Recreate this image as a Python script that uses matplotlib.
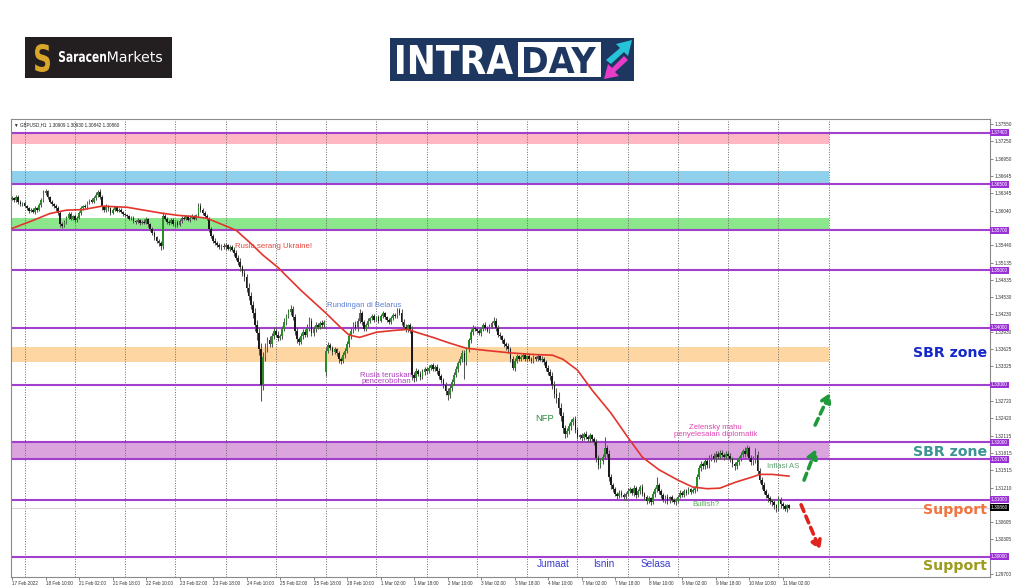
import numpy as np
import matplotlib
matplotlib.use('Agg')
import matplotlib.pyplot as plt
import matplotlib.transforms as mtrans
from matplotlib.textpath import TextPath
from matplotlib.font_manager import FontProperties
from matplotlib.patches import PathPatch, Rectangle, Polygon

# GBPUSD H1 closes, one per hourly bar (17 Feb 2022 18:00 -> 11 Mar 2022 05:00)
closes = [
    1.3626, 1.3622, 1.3628, 1.3620, 1.3616, 1.3618, 1.3612, 1.3608, 1.3604, 1.3606, 1.3602, 1.3608,
    1.3605, 1.3614, 1.3622, 1.3635, 1.3638, 1.3628, 1.3620, 1.3615, 1.3612, 1.3608, 1.3600, 1.3580,
    1.3578, 1.3585, 1.3592, 1.3598, 1.3590, 1.3595, 1.3588, 1.3592, 1.3600, 1.3608, 1.3612, 1.3610,
    1.3618, 1.3622, 1.3620, 1.3626, 1.3632, 1.3636, 1.3628, 1.3610, 1.3605, 1.3612, 1.3608, 1.3600,
    1.3606, 1.3610, 1.3604, 1.3606, 1.3602, 1.3598, 1.3596, 1.3594, 1.3590, 1.3592, 1.3586, 1.3584,
    1.3588, 1.3582, 1.3585, 1.3583, 1.3590, 1.3580, 1.3572, 1.3565, 1.3558, 1.3552, 1.3548, 1.3542,
    1.3595, 1.3590, 1.3585, 1.3582, 1.3588, 1.3580, 1.3584, 1.3579, 1.3586, 1.3592, 1.3590, 1.3594,
    1.3588, 1.3592, 1.3595, 1.3590, 1.3596, 1.3612, 1.3605, 1.3600, 1.3595, 1.3590, 1.3572, 1.3560,
    1.3552, 1.3548, 1.3545, 1.3540, 1.3543, 1.3540, 1.3544, 1.3538, 1.3541, 1.3536, 1.3530, 1.3522,
    1.3515, 1.3505, 1.3495, 1.3488, 1.3470, 1.3455, 1.3440, 1.3425, 1.3405, 1.3390, 1.3362, 1.3300,
    1.3348, 1.3365, 1.3378, 1.3372, 1.3385, 1.3395, 1.3388, 1.3382, 1.3385, 1.3398, 1.3410, 1.3420,
    1.3428, 1.3432, 1.3418, 1.3395, 1.3380, 1.3375, 1.3385, 1.3392, 1.3388, 1.3400, 1.3412, 1.3390,
    1.3398, 1.3405, 1.3402, 1.3408, 1.3404, 1.3410, 1.3360, 1.3370, 1.3365, 1.3358, 1.3362, 1.3355,
    1.3345, 1.3342, 1.3352, 1.3360, 1.3372, 1.3385, 1.3395, 1.3405, 1.3400, 1.3412, 1.3425, 1.3410,
    1.3398, 1.3405, 1.3412, 1.3416, 1.3420, 1.3414, 1.3418, 1.3412, 1.3420, 1.3425, 1.3418, 1.3414,
    1.3410, 1.3416, 1.3422, 1.3420, 1.3430, 1.3426, 1.3410, 1.3402, 1.3398, 1.3404, 1.3395, 1.3318,
    1.3312, 1.3325, 1.3320, 1.3314, 1.3322, 1.3328, 1.3324, 1.3330, 1.3334, 1.3328, 1.3332, 1.3325,
    1.3315, 1.3308, 1.3300, 1.3290, 1.3282, 1.3295, 1.3305, 1.3318, 1.3328, 1.3338, 1.3345, 1.3355,
    1.3340, 1.3362, 1.3378, 1.3392, 1.3400, 1.3398, 1.3395, 1.3390, 1.3398, 1.3405, 1.3400, 1.3395,
    1.3402, 1.3408, 1.3412, 1.3400, 1.3388, 1.3385, 1.3378, 1.3372, 1.3368, 1.3362, 1.3345, 1.3330,
    1.3342, 1.3350, 1.3345, 1.3348, 1.3352, 1.3345, 1.3350, 1.3346, 1.3342, 1.3348, 1.3345, 1.3350,
    1.3344, 1.3346, 1.3340, 1.3330, 1.3322, 1.3315, 1.3300, 1.3285, 1.3278, 1.3260, 1.3245, 1.3225,
    1.3215, 1.3220, 1.3228, 1.3235, 1.3240, 1.3222, 1.3210, 1.3212, 1.3208, 1.3215, 1.3210, 1.3205,
    1.3212, 1.3206, 1.3200, 1.3172, 1.3160, 1.3168, 1.3175, 1.3190, 1.3180, 1.3140, 1.3125, 1.3118,
    1.3110, 1.3106, 1.3112, 1.3108, 1.3104, 1.3110, 1.3115, 1.3118, 1.3112, 1.3120, 1.3108, 1.3115,
    1.3122, 1.3110, 1.3105, 1.3098, 1.3102, 1.3096, 1.3110, 1.3118, 1.3125, 1.3115, 1.3108, 1.3100,
    1.3105, 1.3098, 1.3104, 1.3100, 1.3096, 1.3098, 1.3105, 1.3112, 1.3108, 1.3115, 1.3112, 1.3118,
    1.3114, 1.3116, 1.3120, 1.3140, 1.3155, 1.3162, 1.3158, 1.3168, 1.3160, 1.3172, 1.3176, 1.3170,
    1.3180, 1.3175, 1.3182, 1.3178, 1.3174, 1.3180, 1.3176, 1.3170, 1.3162, 1.3158, 1.3165, 1.3172,
    1.3178, 1.3185, 1.3180, 1.3190, 1.3172, 1.3166, 1.3170, 1.3178, 1.3150, 1.3135, 1.3125, 1.3115,
    1.3108, 1.3102, 1.3098, 1.3095, 1.3090, 1.3085, 1.3100, 1.3092, 1.3088, 1.3084, 1.3090, 1.3086,
]
upper_wick_pips = [
    3, 2, 4, 3, 2, 2, 3, 2, 3, 2, 3, 4, 2, 3, 5, 6, 4, 3, 2, 3, 2, 4, 5, 3,
    4, 3, 2, 3, 4, 2, 3, 2, 3, 4, 2, 3, 3, 2, 4, 3, 5, 4, 6, 3, 4, 3, 2, 3,
    3, 2, 3, 2, 3, 2, 2, 3, 2, 3, 2, 2, 3, 2, 3, 4, 3, 2, 3, 4, 3, 2, 3, 4,
    6, 4, 3, 2, 3, 4, 2, 3, 3, 2, 3, 2, 3, 4, 3, 2, 3, 5, 6, 4, 3, 4, 3, 4,
    3, 4, 3, 2, 3, 4, 3, 2, 3, 3, 4, 5, 4, 6, 5, 7, 6, 8, 7, 6, 9, 8, 10, 12,
    10, 8, 6, 7, 5, 6, 5, 6, 4, 5, 6, 4, 5, 7, 6, 5, 6, 4, 5, 6, 5, 7, 6, 4,
    5, 4, 3, 4, 5, 4, 6, 5, 4, 3, 4, 3, 4, 3, 5, 4, 5, 6, 4, 5, 6, 5, 7, 4,
    4, 3, 4, 3, 4, 3, 2, 4, 3, 4, 3, 2, 3, 4, 3, 4, 5, 4, 6, 5, 4, 3, 4, 8,
    5, 4, 3, 4, 5, 4, 3, 4, 3, 4, 3, 4, 5, 4, 5, 6, 5, 6, 5, 4, 5, 4, 5, 6,
    6, 5, 4, 5, 4, 3, 4, 3, 4, 3, 4, 3, 4, 3, 6, 4, 5, 4, 3, 4, 3, 5, 4, 6,
    5, 4, 3, 4, 3, 4, 3, 4, 3, 4, 3, 4, 3, 4, 3, 4, 5, 6, 8, 7, 9, 10, 8, 7,
    6, 5, 6, 5, 4, 5, 4, 3, 4, 3, 4, 3, 4, 3, 4, 5, 6, 5, 4, 20, 5, 6, 5, 4,
    4, 3, 4, 5, 3, 4, 5, 4, 3, 5, 4, 3, 4, 5, 4, 3, 4, 3, 5, 4, 15, 4, 3, 4,
    3, 4, 3, 4, 3, 4, 3, 4, 3, 4, 3, 4, 3, 4, 3, 5, 6, 5, 4, 5, 4, 5, 4, 5,
    4, 5, 4, 5, 4, 5, 4, 6, 5, 4, 5, 4, 5, 4, 6, 5, 4, 5, 6, 12, 6, 5, 4, 5,
    4, 3, 4, 3, 4, 3, 6, 4, 3, 5, 3, 2,
]
lower_wick_pips = [
    2, 3, 2, 4, 3, 3, 2, 3, 4, 3, 2, 3, 3, 2, 3, 2, 3, 4, 3, 2, 3, 4, 3, 5,
    4, 3, 4, 3, 2, 3, 4, 3, 2, 3, 3, 2, 3, 2, 3, 2, 3, 4, 3, 5, 4, 3, 4, 3,
    2, 3, 2, 3, 2, 3, 3, 2, 3, 2, 3, 3, 2, 3, 2, 3, 2, 4, 3, 4, 5, 4, 5, 6,
    4, 3, 4, 3, 2, 3, 4, 3, 2, 3, 2, 3, 2, 3, 2, 3, 2, 3, 4, 3, 4, 3, 5, 4,
    4, 3, 4, 3, 4, 3, 4, 3, 4, 3, 5, 4, 5, 6, 5, 6, 8, 7, 8, 9, 10, 12, 10, 28,
    8, 6, 7, 5, 6, 5, 4, 5, 4, 5, 4, 5, 4, 6, 5, 7, 6, 5, 4, 5, 4, 5, 6, 5,
    4, 5, 4, 5, 4, 5, 6, 5, 4, 5, 4, 5, 6, 5, 4, 5, 4, 5, 4, 5, 4, 5, 4, 5,
    3, 4, 3, 4, 3, 4, 3, 4, 3, 4, 3, 4, 3, 4, 3, 4, 3, 4, 5, 4, 5, 6, 5, 10,
    6, 5, 4, 5, 4, 5, 4, 3, 4, 3, 4, 5, 4, 5, 6, 7, 8, 5, 6, 5, 4, 5, 4, 5,
    30, 5, 4, 5, 4, 3, 4, 3, 4, 3, 4, 3, 4, 3, 4, 5, 4, 5, 4, 6, 7, 6, 5, 4,
    5, 4, 3, 4, 3, 4, 3, 4, 3, 4, 3, 4, 3, 4, 5, 6, 5, 6, 7, 8, 9, 10, 8, 9,
    7, 6, 5, 6, 5, 6, 5, 4, 5, 4, 5, 4, 5, 4, 5, 7, 6, 5, 6, 5, 6, 7, 6, 5,
    4, 5, 4, 3, 4, 5, 4, 3, 4, 5, 6, 4, 5, 4, 6, 5, 4, 5, 4, 5, 4, 5, 6, 5,
    6, 5, 4, 5, 4, 5, 4, 3, 4, 3, 4, 3, 4, 3, 4, 5, 4, 5, 4, 5, 4, 5, 4, 5,
    5, 4, 5, 4, 5, 4, 5, 4, 5, 6, 5, 4, 5, 4, 5, 4, 5, 6, 5, 6, 5, 6, 7, 6,
    5, 6, 5, 6, 7, 6, 5, 6, 5, 4, 5, 3,
]
first_open = 1.3624
gap_opens = {150: 1.3322}   # Monday 28 Feb gap

# red moving average, read at bar positions
ma_bars = [0, 10, 18, 26, 34, 43, 55, 63, 71, 79, 86, 93, 99, 107, 114, 120, 127, 138, 150,
           157, 161, 166, 174, 182, 189, 193, 201, 209, 217, 227, 238, 250, 258, 263, 270,
           277, 286, 294, 301, 309, 318, 325, 332, 338, 346, 354, 357, 363, 371]
ma_values = [1.3573, 1.3587, 1.3599, 1.3605, 1.3606, 1.3612, 1.3610, 1.3605, 1.3600, 1.3596,
             1.3594, 1.3591, 1.3582, 1.3570, 1.3547, 1.3526, 1.3505, 1.3465, 1.3425, 1.3400,
             1.3387, 1.3383, 1.3392, 1.3395, 1.3397, 1.3392, 1.3383, 1.3373, 1.3364, 1.3360,
             1.3356, 1.3353, 1.3352, 1.3345, 1.3326, 1.3291, 1.3251, 1.3209, 1.3174, 1.3152,
             1.3134, 1.3122, 1.3119, 1.3120, 1.3131, 1.3140, 1.3144, 1.3144, 1.3141]

time_labels = ['17 Feb 2022', '18 Feb 10:00', '21 Feb 02:00', '21 Feb 18:00', '22 Feb 10:00',
               '23 Feb 02:00', '23 Feb 18:00', '24 Feb 10:00', '25 Feb 02:00', '25 Feb 18:00',
               '28 Feb 10:00', '1 Mar 02:00', '1 Mar 18:00', '2 Mar 10:00', '3 Mar 02:00',
               '3 Mar 18:00', '4 Mar 10:00', '7 Mar 02:00', '7 Mar 18:00', '8 Mar 10:00',
               '9 Mar 02:00', '9 Mar 18:00', '10 Mar 10:00', '11 Mar 02:00']
price_ticks = [1.29700, 1.30003, 1.30305, 1.30605, 1.30910, 1.31210, 1.31515, 1.31815, 1.32115,
               1.32420, 1.32720, 1.33025, 1.33325, 1.33625, 1.33930, 1.34230, 1.34530, 1.34835,
               1.35135, 1.35440, 1.35740, 1.36040, 1.36345, 1.36645, 1.36950, 1.37250, 1.37550]
# tick labels the terminal hides behind the level tags
hidden_ticks = [1.30003, 1.30910, 1.33025, 1.35740]
levels = [1.37400, 1.36500, 1.35700, 1.35000, 1.34000, 1.33000, 1.32000, 1.31700, 1.31000, 1.30000]
band_lows = [1.3720, 1.3650, 1.3570, 1.3340, 1.3170]
band_highs = [1.3740, 1.3673, 1.3591, 1.3367, 1.3200]
band_colors = ['#ffb7c3', '#8fd0ec', '#8ce68c', '#fdd6a2', '#dba4dd']
last_price = 1.30860
header = '\u25bc GBPUSD,H1  1.30909 1.30930 1.30842 1.30860'

# ---- build OHLC
c = np.array(closes)
o = np.concatenate([[first_open], c[:-1]])
for i, v in gap_opens.items():
    o[i] = v
hi = np.maximum(o, c) + np.array(upper_wick_pips) * 1e-4
lo = np.minimum(o, c) - np.array(lower_wick_pips) * 1e-4
x = np.arange(len(c))

fig = plt.figure(figsize=(10.24, 5.87), dpi=100)
fig.patch.set_facecolor('white')

# ---- logos (pixel coordinate overlay)
bg = fig.add_axes([0, 0, 1, 1])
bg.set_xlim(0, 1024)
bg.set_ylim(587, 0)
bg.axis('off')


def fit_text(s, x0, x1, y0, y1, color, weight='bold', family='DejaVu Sans'):
    tp = TextPath((0, 0), s, size=10, prop=FontProperties(family=family, weight=weight))
    ext = tp.get_extents()
    tr = (mtrans.Affine2D().translate(-ext.x0, -ext.y0)
          .scale((x1 - x0) / ext.width, -(y1 - y0) / ext.height).translate(x0, y1))
    bg.add_patch(PathPatch(tr.transform_path(tp), fc=color, ec='none'))


bg.add_patch(Rectangle((25, 37), 147, 41, fc='#231f20', ec='none'))
fit_text('S', 35, 50, 44, 72, '#d9a52a')
fit_text('Saracen', 59, 106, 51, 62, 'white')
fit_text('Markets', 108, 162, 51, 62, 'white', weight='normal')

bg.add_patch(Rectangle((390, 38), 244, 43, fc='#1d3761', ec='none'))
fit_text('INTRA', 397, 513, 45, 74, 'white')
bg.add_patch(Rectangle((518, 42), 83, 35, fc='white', ec='none'))
fit_text('DAY', 524, 596, 47, 73, '#1d3761')
bg.add_patch(Polygon([[606, 60], [620, 48], [616, 44], [632, 40], [628, 56], [624, 52], [611, 64]],
                     fc='#27c3d6', ec='none'))
bg.add_patch(Polygon([[628, 60], [615, 72], [619, 76], [604, 79], [608, 64], [612, 68], [624, 56]],
                     fc='#e63cc8', ec='none'))

# ---- main chart
ax = fig.add_axes([11 / 1024, 10 / 587, 979 / 1024, 458 / 587])
ax.set_xlim(-0.48, 467)
ax.set_ylim(1.2965, 1.3764)

for k in range(17):
    ax.axvline(6 + 24 * k, color='#6a6a6a', lw=0.7, ls=(0, (1, 1.6)), zorder=1.5)

for b0, b1, col in zip(band_lows, band_highs, band_colors):
    ax.fill_between([-0.48, 390], b0, b1, color=col, lw=0, zorder=1)

for lv in levels:
    ax.axhline(lv, color='#a040cc', lw=1.5, zorder=2)
    ax.text(1.001, lv, '%.5f' % lv, transform=ax.get_yaxis_transform(), ha='left', va='center',
            fontsize=3.4, color='white', family='Liberation Sans', clip_on=False, zorder=6,
            bbox=dict(boxstyle='square,pad=0.2', fc='#9b30d6', ec='none'))
ax.axhline(last_price, color='#dcc8d4', lw=0.6, zorder=1.8)
ax.text(1.001, last_price, '%.5f' % last_price, transform=ax.get_yaxis_transform(), ha='left',
        va='center', fontsize=3.4, color='white', family='Liberation Sans', clip_on=False,
        zorder=6, bbox=dict(boxstyle='square,pad=0.2', fc='black', ec='none'))

# candles
up = c >= o
ax.vlines(x, lo, hi, color='#555555', lw=0.75, zorder=3)
body = np.maximum(np.abs(c - o), 0.00006)
ax.bar(x, body, bottom=np.minimum(o, c), width=0.8,
       color=np.where(up, '#2c8c2c', '#1a1a1a'), lw=0, zorder=4)

ax.plot(ma_bars, ma_values, color='#e3342c', lw=1.2, zorder=5)

# annotations
small = dict(family='Liberation Sans', zorder=6)
ax.text(106.5, 1.3542, 'Rusia serang Ukraine!', color='#e8453c', fontsize=5.6, va='center', **small)
ax.text(150.4, 1.3439, 'Rundingan di Belarus', color='#5b7fd6', fontsize=5.6, va='center', **small)
ax.text(178.6, 1.3312, 'Rusia teruskan\npencerobohan', color='#b040c0', fontsize=5.6,
        ha='center', va='center', linespacing=0.8, **small)
ax.text(249.8, 1.3241, 'NFP', color='#2e8b3e', fontsize=6.8, va='center', **small)
ax.text(336, 1.3220, 'Zelensky mahu\npenyelesaian diplomatik', color='#e044b4', fontsize=5.6,
        ha='center', va='center', linespacing=0.95, **small)
ax.text(360.5, 1.3157, 'Inflasi AS', color='#5fa070', fontsize=5.6, va='center', **small)
ax.text(324.7, 1.3091, 'Bullish?', color='#5ab05a', fontsize=5.6, va='center', **small)
for xd, word in zip([250.7, 277.5, 300], ['Jumaat', 'Isnin', 'Selasa']):
    ax.text(xd, 1.2988, word, color='#3b3bd0', fontsize=7.2, va='center', **small)

big = dict(fontsize=10.2, fontweight='bold', ha='right', va='center', family='DejaVu Sans',
           transform=ax.get_yaxis_transform(), zorder=6)
ax.text(0.997, 1.3356, 'SBR zone', color='#1428c8', **big)
ax.text(0.997, 1.3183, 'SBR zone', color='#3c9494', **big)
ax.text(0.997, 1.3082, 'Support', color='#f0743e', **big)
ax.text(0.997, 1.2985, 'Support', color='#9c9c1e', **big)

ax.text(0.003, 0.993, header, transform=ax.transAxes, fontsize=3.3, va='top', color='#222222',
        family=['Liberation Sans', 'DejaVu Sans'], zorder=6)

# dashed scenario arrows
arrow_tails = [(383.5, 1.3230), (378.2, 1.3134), (376.8, 1.3091)]
arrow_heads = [(390.6, 1.3286), (383.9, 1.3188), (385.9, 1.3012)]
arrow_colors = ['#1f9a3a', '#1f9a3a', '#e0231c']
for t, h, col in zip(arrow_tails, arrow_heads, arrow_colors):
    ax.annotate('', xy=h, xytext=t, zorder=7,
                arrowprops=dict(arrowstyle='-|>,head_length=0.5,head_width=0.3', lw=2.6,
                                ls=(0, (2, 1.4)), color=col, shrinkA=0, shrinkB=0))

# axes styling like the terminal
ax.yaxis.tick_right()
ax.set_yticks(price_ticks)
ax.set_yticklabels(['' if v in hidden_ticks else '%.5f' % v for v in price_ticks], fontsize=3.4,
                   family='Liberation Sans', color='#333333')
ax.set_xticks(range(0, 16 * len(time_labels), 16))
ax.set_xticklabels(time_labels, fontsize=3.3, family='Liberation Sans', color='#333333', ha='left')
ax.tick_params(axis='both', length=2, width=0.5, pad=1, color='#555555')
for sp in ax.spines.values():
    sp.set_color('#8a8a8a')
    sp.set_linewidth(0.8)

fig.savefig('out.png', dpi=100)
